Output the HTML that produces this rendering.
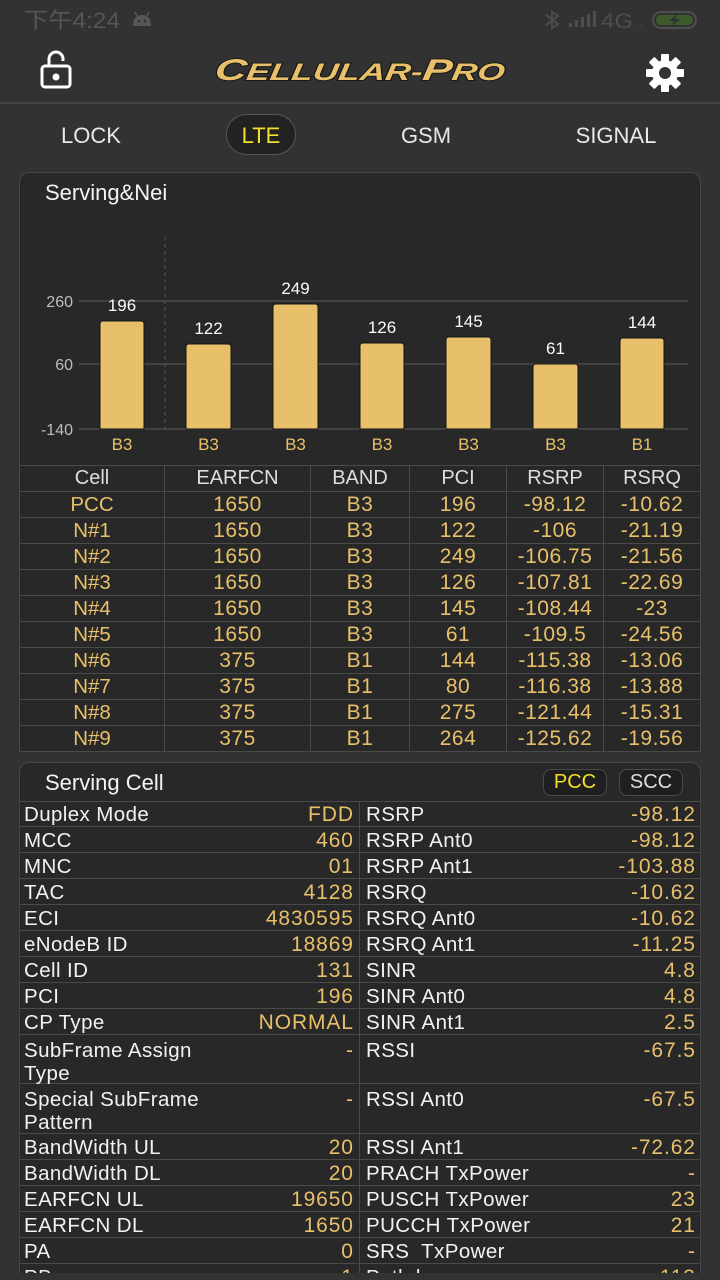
<!DOCTYPE html>
<html>
<head>
<meta charset="utf-8">
<style>
  * { margin:0; padding:0; box-sizing:border-box; }
  html, body { width:720px; height:1280px; background:#323232; overflow:hidden; }
  body { position:relative; font-family:"Liberation Sans", "Noto Sans CJK SC", sans-serif; color:#f0f0f0; }
  .abs { position:absolute; }
  .sep { left:0; top:102px; width:720px; height:2px; background:#444; }
  .tab { top:122px; font-size:22px; color:#e8e8e8; width:140px; text-align:center; line-height:28px; }
  .pill { left:226px; top:114px; width:70px; height:41px; border-radius:21px; background:#222; border:1px solid #565656; }
  .card { background:#282828; border:1px solid #464646; border-radius:10px; }
  .title { font-size:22px; color:#f4f4f4; }
  table.nt { position:absolute; left:19px; top:465px; border-collapse:collapse; table-layout:fixed; }
  table.nt td { border:1px solid #4a4a4a; height:26px; padding:0; text-align:center; font-size:21px; color:#e8c06a; line-height:25px; letter-spacing:0.5px; }
  table.nt td:first-child { letter-spacing:0; font-size:20.5px; }
  table.nt tr.h td { color:#dedede; letter-spacing:0; font-size:20px; }
  .sc { position:absolute; left:19px; width:681px; display:flex; border-bottom:1px solid #4a4a4a; }
  .sc .c { width:341px; display:flex; justify-content:space-between; font-size:20.5px; line-height:27px; border-right:1px solid #4a4a4a; padding:0 6px 0 5px; }
  .sc .c:last-child { width:340px; border-right:none; padding:0 5px 0 6px; }
  .sc .c .l { color:#f2f2f2; letter-spacing:0.4px; }
  .sc .c .v { color:#e8c06a; letter-spacing:0.9px; margin-right:-0.9px; font-size:21px; }
  .sc.two .c { line-height:23px; padding-top:4px; }
  .btn { top:769px; height:27px; border-radius:8px; background:#1f1f1f; border:1px solid #4a4a4a; font-size:20px; text-align:center; line-height:25px; }
</style>
</head>
<body>

<!-- status bar -->
<svg class="abs" style="left:0;top:0" width="720" height="40" viewBox="0 0 720 40">
  <text x="24" y="28" font-family="Liberation Sans, Noto Sans CJK SC, sans-serif" font-size="22" fill="#565656" textLength="96" lengthAdjust="spacingAndGlyphs">下午4:24</text>
  <path d="M133 26 Q133 15 142 15 Q151 15 151 26 Z" fill="#565656"/>
  <line x1="137" y1="16" x2="135" y2="12" stroke="#565656" stroke-width="1.5"/>
  <line x1="147" y1="16" x2="149" y2="12" stroke="#565656" stroke-width="1.5"/>
  <circle cx="139" cy="21" r="1.3" fill="#323232"/><circle cx="145" cy="21" r="1.3" fill="#323232"/>
  <path d="M546 15 L558 24 L552 28 L552 12 L558 16 L546 25" fill="none" stroke="#4e4e4e" stroke-width="1.8"/>
  <rect x="569" y="23" width="3" height="4" fill="#4e4e4e"/>
  <rect x="575" y="20" width="3" height="7" fill="#4e4e4e"/>
  <rect x="581" y="17" width="3" height="10" fill="#4e4e4e"/>
  <rect x="587" y="14" width="3" height="13" fill="#4e4e4e"/>
  <rect x="593" y="11" width="3" height="16" fill="#4e4e4e"/>
  <text x="601" y="28" font-family="Liberation Sans" font-size="21" fill="#4e4e4e" textLength="32" lengthAdjust="spacingAndGlyphs">4G</text>
  <text x="636" y="28" font-family="Liberation Sans" font-size="7" fill="#4e4e4e">↓↑</text>
  <rect x="653" y="12" width="43" height="16" rx="8" fill="none" stroke="#4e4e4e" stroke-width="2"/>
  <rect x="656" y="15" width="37" height="10" rx="5" fill="#3c5a2c"/>
  <path d="M678 13 L669 21 L674 21 L670 27 L680 19 L675 19 Z" fill="#323232"/>
</svg>

<!-- header -->
<svg class="abs" style="left:36px;top:48px" width="40" height="44" viewBox="36 48 40 44">
  <path d="M49 66 L49 59 A7 7 0 0 1 63 59 L63 61" fill="none" stroke="#fff" stroke-width="3"/>
  <rect x="42" y="66" width="28" height="21" rx="3" fill="none" stroke="#fff" stroke-width="3"/>
  <circle cx="56" cy="77" r="3.5" fill="#fff"/>
</svg>
<svg class="abs" style="left:0;top:40px" width="720" height="60" viewBox="0 40 720 60">
  <text x="213" y="80" font-family="Liberation Sans" font-weight="bold" font-style="italic" font-size="24" fill="#e8c06a" stroke="#161616" stroke-width="1.8" paint-order="stroke" textLength="290" lengthAdjust="spacingAndGlyphs" transform="skewX(-8) translate(12 0)"><tspan font-size="30">C</tspan>ELLULAR-<tspan font-size="30">P</tspan>RO</text>
</svg>
<svg class="abs" style="left:644px;top:52px" width="42" height="42" viewBox="-21 -21 42 42">
  <g fill="#fff">
    <circle r="13"/>
    <rect x="-4" y="-19" width="8" height="10" rx="1"/>
    <rect x="-4" y="-19" width="8" height="10" rx="1" transform="rotate(45)"/>
    <rect x="-4" y="-19" width="8" height="10" rx="1" transform="rotate(90)"/>
    <rect x="-4" y="-19" width="8" height="10" rx="1" transform="rotate(135)"/>
    <rect x="-4" y="-19" width="8" height="10" rx="1" transform="rotate(180)"/>
    <rect x="-4" y="-19" width="8" height="10" rx="1" transform="rotate(225)"/>
    <rect x="-4" y="-19" width="8" height="10" rx="1" transform="rotate(270)"/>
    <rect x="-4" y="-19" width="8" height="10" rx="1" transform="rotate(315)"/>
  </g>
  <circle r="6" fill="#323232"/>
</svg>
<div class="abs sep"></div>

<!-- tabs -->
<div class="abs pill"></div>
<div class="abs tab" style="left:21px">LOCK</div>
<div class="abs tab" style="left:191px;color:#f2e02a">LTE</div>
<div class="abs tab" style="left:356px">GSM</div>
<div class="abs tab" style="left:546px">SIGNAL</div>

<!-- Serving & Nei card -->
<div class="abs card" style="left:19px;top:172px;width:682px;height:580px;border-bottom-left-radius:0;border-bottom-right-radius:0"></div>
<div class="abs title" style="left:45px;top:180px">Serving&amp;Nei</div>
<svg class="abs" style="left:0;top:0" width="720" height="470" viewBox="0 0 720 470" font-family="Liberation Sans">
  <line x1="79" y1="301" x2="688" y2="301" stroke="#4a4a4a" stroke-width="1.5"/>
  <line x1="79" y1="364" x2="688" y2="364" stroke="#4a4a4a" stroke-width="1.5"/>
  <line x1="79" y1="429" x2="688" y2="429" stroke="#4a4a4a" stroke-width="1.5"/>
  <line x1="165" y1="237" x2="165" y2="429" stroke="#555" stroke-width="1" stroke-dasharray="4 3"/>
  <g font-size="16" fill="#bdbdbd" text-anchor="end">
    <text x="73" y="307">260</text>
    <text x="73" y="370">60</text>
    <text x="73" y="435">-140</text>
  </g>
  <g fill="#e8c06a" stroke="#151515" stroke-width="1">
    <path d="M100 429 V324 Q100 321 103 321 H141 Q144 321 144 324 V429 Z"/>
    <path d="M186 429 V347 Q186 344 189 344 H228 Q231 344 231 347 V429 Z"/>
    <path d="M273 429 V307 Q273 304 276 304 H315 Q318 304 318 307 V429 Z"/>
    <path d="M360 429 V346 Q360 343 363 343 H401 Q404 343 404 346 V429 Z"/>
    <path d="M446 429 V340 Q446 337 449 337 H488 Q491 337 491 340 V429 Z"/>
    <path d="M533 429 V367 Q533 364 536 364 H575 Q578 364 578 367 V429 Z"/>
    <path d="M620 429 V341 Q620 338 623 338 H661 Q664 338 664 341 V429 Z"/>
  </g>
  <g font-size="17" fill="#fafafa" text-anchor="middle">
    <text x="122" y="311">196</text>
    <text x="208.5" y="334">122</text>
    <text x="295.5" y="294">249</text>
    <text x="382" y="333">126</text>
    <text x="468.5" y="327">145</text>
    <text x="555.5" y="354">61</text>
    <text x="642" y="328">144</text>
  </g>
  <g font-size="17" fill="#e8c06a" text-anchor="middle">
    <text x="122" y="450">B3</text>
    <text x="208.5" y="450">B3</text>
    <text x="295.5" y="450">B3</text>
    <text x="382" y="450">B3</text>
    <text x="468.5" y="450">B3</text>
    <text x="555.5" y="450">B3</text>
    <text x="642" y="450">B1</text>
  </g>
</svg>

<table class="nt">
  <colgroup><col style="width:145px"><col style="width:146px"><col style="width:99px"><col style="width:97px"><col style="width:97px"><col style="width:97px"></colgroup>
  <tr class="h"><td>Cell</td><td>EARFCN</td><td>BAND</td><td>PCI</td><td>RSRP</td><td>RSRQ</td></tr>
  <tr><td>PCC</td><td>1650</td><td>B3</td><td>196</td><td>-98.12</td><td>-10.62</td></tr>
  <tr><td>N#1</td><td>1650</td><td>B3</td><td>122</td><td>-106</td><td>-21.19</td></tr>
  <tr><td>N#2</td><td>1650</td><td>B3</td><td>249</td><td>-106.75</td><td>-21.56</td></tr>
  <tr><td>N#3</td><td>1650</td><td>B3</td><td>126</td><td>-107.81</td><td>-22.69</td></tr>
  <tr><td>N#4</td><td>1650</td><td>B3</td><td>145</td><td>-108.44</td><td>-23</td></tr>
  <tr><td>N#5</td><td>1650</td><td>B3</td><td>61</td><td>-109.5</td><td>-24.56</td></tr>
  <tr><td>N#6</td><td>375</td><td>B1</td><td>144</td><td>-115.38</td><td>-13.06</td></tr>
  <tr><td>N#7</td><td>375</td><td>B1</td><td>80</td><td>-116.38</td><td>-13.88</td></tr>
  <tr><td>N#8</td><td>375</td><td>B1</td><td>275</td><td>-121.44</td><td>-15.31</td></tr>
  <tr><td>N#9</td><td>375</td><td>B1</td><td>264</td><td>-125.62</td><td>-19.56</td></tr>
</table>

<!-- Serving Cell card (clipped) -->
<div class="abs" style="left:0;top:0;width:720px;height:1273px;overflow:hidden">
  <div class="abs card" style="left:19px;top:762px;width:682px;height:560px"></div>
  <div class="abs title" style="left:45px;top:770px">Serving Cell</div>
  <div class="abs btn" style="left:543px;width:64px;color:#f2e02a">PCC</div>
  <div class="abs btn" style="left:619px;width:64px;color:#dedede">SCC</div>
  <div class="abs" style="left:19px;top:801px;width:682px;height:1px;background:#4a4a4a"></div>

  <div class="sc" style="top:801px;height:26px"><div class="c"><span class="l">Duplex Mode</span><span class="v">FDD</span></div><div class="c"><span class="l">RSRP</span><span class="v">-98.12</span></div></div>
  <div class="sc" style="top:827px;height:26px"><div class="c"><span class="l">MCC</span><span class="v">460</span></div><div class="c"><span class="l">RSRP Ant0</span><span class="v">-98.12</span></div></div>
  <div class="sc" style="top:853px;height:26px"><div class="c"><span class="l">MNC</span><span class="v">01</span></div><div class="c"><span class="l">RSRP Ant1</span><span class="v">-103.88</span></div></div>
  <div class="sc" style="top:879px;height:26px"><div class="c"><span class="l">TAC</span><span class="v">4128</span></div><div class="c"><span class="l">RSRQ</span><span class="v">-10.62</span></div></div>
  <div class="sc" style="top:905px;height:26px"><div class="c"><span class="l">ECI</span><span class="v">4830595</span></div><div class="c"><span class="l">RSRQ Ant0</span><span class="v">-10.62</span></div></div>
  <div class="sc" style="top:931px;height:26px"><div class="c"><span class="l">eNodeB ID</span><span class="v">18869</span></div><div class="c"><span class="l">RSRQ Ant1</span><span class="v">-11.25</span></div></div>
  <div class="sc" style="top:957px;height:26px"><div class="c"><span class="l">Cell ID</span><span class="v">131</span></div><div class="c"><span class="l">SINR</span><span class="v">4.8</span></div></div>
  <div class="sc" style="top:983px;height:26px"><div class="c"><span class="l">PCI</span><span class="v">196</span></div><div class="c"><span class="l">SINR Ant0</span><span class="v">4.8</span></div></div>
  <div class="sc" style="top:1009px;height:26px"><div class="c"><span class="l">CP Type</span><span class="v">NORMAL</span></div><div class="c"><span class="l">SINR Ant1</span><span class="v">2.5</span></div></div>
  <div class="sc two" style="top:1035px;height:49px"><div class="c"><span class="l">SubFrame Assign<br>Type</span><span class="v">-</span></div><div class="c"><span class="l">RSSI</span><span class="v">-67.5</span></div></div>
  <div class="sc two" style="top:1084px;height:50px"><div class="c"><span class="l">Special SubFrame<br>Pattern</span><span class="v">-</span></div><div class="c"><span class="l">RSSI Ant0</span><span class="v">-67.5</span></div></div>
  <div class="sc" style="top:1134px;height:26px"><div class="c"><span class="l">BandWidth UL</span><span class="v">20</span></div><div class="c"><span class="l">RSSI Ant1</span><span class="v">-72.62</span></div></div>
  <div class="sc" style="top:1160px;height:26px"><div class="c"><span class="l">BandWidth DL</span><span class="v">20</span></div><div class="c"><span class="l">PRACH TxPower</span><span class="v">-</span></div></div>
  <div class="sc" style="top:1186px;height:26px"><div class="c"><span class="l">EARFCN UL</span><span class="v">19650</span></div><div class="c"><span class="l">PUSCH TxPower</span><span class="v">23</span></div></div>
  <div class="sc" style="top:1212px;height:26px"><div class="c"><span class="l">EARFCN DL</span><span class="v">1650</span></div><div class="c"><span class="l">PUCCH TxPower</span><span class="v">21</span></div></div>
  <div class="sc" style="top:1238px;height:26px"><div class="c"><span class="l">PA</span><span class="v">0</span></div><div class="c"><span class="l">SRS&nbsp; TxPower</span><span class="v">-</span></div></div>
  <div class="sc" style="top:1264px;height:26px"><div class="c"><span class="l">PB</span><span class="v">1</span></div><div class="c"><span class="l">Path loss</span><span class="v">113</span></div></div>
</div>

</body>
</html>
